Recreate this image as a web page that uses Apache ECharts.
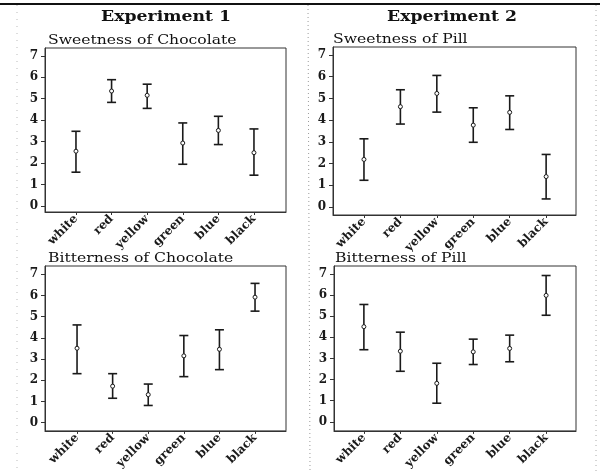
<!DOCTYPE html>
<html><head><meta charset="utf-8">
<script src="https://cdn.jsdelivr.net/npm/echarts@6/dist/echarts.min.js"></script>
<style>html,body{margin:0;padding:0;background:#fff}#c{width:600px;height:472px}</style>
</head><body><div id="c"></div>
<script>
const categories = ['white','red','yellow','green','blue','black'];
const yTicks = [0,1,2,3,4,5,6,7];
const sweetChocMean = [2.55, 5.36, 5.16, 2.93, 3.52, 2.48];
const sweetChocLow  = [1.57, 4.83, 4.55, 1.94, 2.86, 1.43];
const sweetChocHigh = [3.48, 5.89, 5.68, 3.87, 4.18, 3.59];
const sweetPillMean = [2.19, 4.62, 5.23, 3.77, 4.36, 1.40];
const sweetPillLow  = [1.23, 3.82, 4.37, 2.98, 3.57, 0.37];
const sweetPillHigh = [3.14, 5.40, 6.06, 4.57, 5.12, 2.42];
const bitChocMean = [3.51, 1.72, 1.32, 3.15, 3.46, 5.92];
const bitChocLow  = [2.31, 1.15, 0.81, 2.17, 2.50, 5.26];
const bitChocHigh = [4.61, 2.31, 1.82, 4.11, 4.38, 6.57];
const bitPillMean = [4.50, 3.34, 1.82, 3.31, 3.47, 5.98];
const bitPillLow  = [3.41, 2.39, 0.88, 2.71, 2.84, 5.04];
const bitPillHigh = [5.55, 4.24, 2.77, 3.91, 4.10, 6.92];
const panelTitles = ['Sweetness of Chocolate','Sweetness of Pill','Bitterness of Chocolate','Bitterness of Pill'];
const expTitles = ['Experiment 1','Experiment 2'];

const panels = [
  {mean: sweetChocMean, low: sweetChocLow, high: sweetChocHigh,
   grid:{left:45, top:48, width:241, height:164}, x:[0.13,6.9], y:[-0.29,7.37], tx:48, ty:47},
  {mean: sweetPillMean, low: sweetPillLow, high: sweetPillHigh,
   grid:{left:333, top:47, width:243, height:168}, x:[0.15,6.82], y:[-0.37,7.37], tx:333, ty:46},
  {mean: bitChocMean, low: bitChocLow, high: bitChocHigh,
   grid:{left:45, top:266, width:241, height:167}, x:[0.10,6.87], y:[-0.39,7.39], tx:48, ty:265},
  {mean: bitPillMean, low: bitPillLow, high: bitPillHigh,
   grid:{left:334, top:266, width:242, height:169}, x:[0.18,6.82], y:[-0.43,7.37], tx:335, ty:265}
];
const ink = '#1a1a1a';
const serif = '"DejaVu Serif", serif';
const grids = [], xAxes = [], yAxes = [], series = [];
panels.forEach((p, i) => {
  grids.push(Object.assign({show:true, borderColor:'#333', borderWidth:1, backgroundColor:'#fff'}, p.grid));
  xAxes.push({type:'value', gridIndex:i, min:p.x[0], max:p.x[1],
    splitLine:{show:false},
    axisLine:{show:true, onZero:false, lineStyle:{color:'#333'}},
    axisTick:{show:true, customValues:[1,2,3,4,5,6], length:3, lineStyle:{color:'#333'}},
    axisLabel:{customValues:[1,2,3,4,5,6], rotate:45, margin:5,
      formatter:v => categories[Math.round(v)-1] || '',
      fontFamily:serif, fontSize:12, fontWeight:'bold', color:ink}});
  yAxes.push({type:'value', gridIndex:i, min:p.y[0], max:p.y[1],
    splitLine:{show:false},
    axisLine:{show:true, onZero:false, lineStyle:{color:'#333'}},
    axisTick:{show:true, customValues:yTicks, length:4, lineStyle:{color:'#333'}},
    axisLabel:{customValues:yTicks, margin:7, fontFamily:serif, fontSize:12, fontWeight:'bold', color:ink}});
  series.push({type:'custom', xAxisIndex:i, yAxisIndex:i,
    data: categories.map((c, k) => [k+1, p.mean[k], p.low[k], p.high[k]]),
    renderItem:(params, api) => {
      const x = api.value(0);
      const m = api.coord([x, api.value(1)]);
      const lo = api.coord([x, api.value(2)]);
      const hi = api.coord([x, api.value(3)]);
      const cw = 4.5;
      const st = {stroke:ink, lineWidth:1.6};
      return {type:'group', children:[
        {type:'line', shape:{x1:lo[0], y1:lo[1], x2:hi[0], y2:hi[1]}, style:st},
        {type:'line', shape:{x1:lo[0]-cw, y1:lo[1], x2:lo[0]+cw, y2:lo[1]}, style:st},
        {type:'line', shape:{x1:hi[0]-cw, y1:hi[1], x2:hi[0]+cw, y2:hi[1]}, style:st},
        {type:'circle', shape:{cx:m[0], cy:m[1], r:2}, style:{fill:'#fff', stroke:ink, lineWidth:1}}
      ]};
    }});
});
const graphic = [
  {type:'line', shape:{x1:0, y1:4, x2:600, y2:4}, style:{stroke:'#111', lineWidth:2}, z:10},
  {type:'line', shape:{x1:308, y1:5, x2:310, y2:472}, style:{stroke:'#999', lineWidth:1, lineDash:[1,3]}, z:10},
  {type:'line', shape:{x1:17, y1:5, x2:17, y2:472}, style:{stroke:'#bbb', lineWidth:1, lineDash:[1,6]}, z:10},
  {type:'line', shape:{x1:596, y1:5, x2:596, y2:472}, style:{stroke:'#aaa', lineWidth:1, lineDash:[1,4]}, z:10},
  {type:'text', x:166, y:25, scaleX:1.15, z:10, style:{text:expTitles[0], fontFamily:serif, fontWeight:'bold', fontSize:15, fill:'#111', align:'center', verticalAlign:'bottom'}},
  {type:'text', x:452, y:25, scaleX:1.15, z:10, style:{text:expTitles[1], fontFamily:serif, fontWeight:'bold', fontSize:15, fill:'#111', align:'center', verticalAlign:'bottom'}}
];
panels.forEach((p, i) => {
  graphic.push({type:'text', x:p.tx, y:p.ty, scaleX:1.2, z:10,
    style:{text:panelTitles[i], fontFamily:serif, fontSize:13, fill:'#111', align:'left', verticalAlign:'bottom', backgroundColor:'#fff', padding:[0,1,0,0]}});
});
const chart = echarts.init(document.getElementById('c'), null, {renderer:'canvas'});
chart.setOption({backgroundColor:'#fff', animation:false, grid:grids, xAxis:xAxes, yAxis:yAxes, series:series, graphic:graphic});
</script></body></html>
